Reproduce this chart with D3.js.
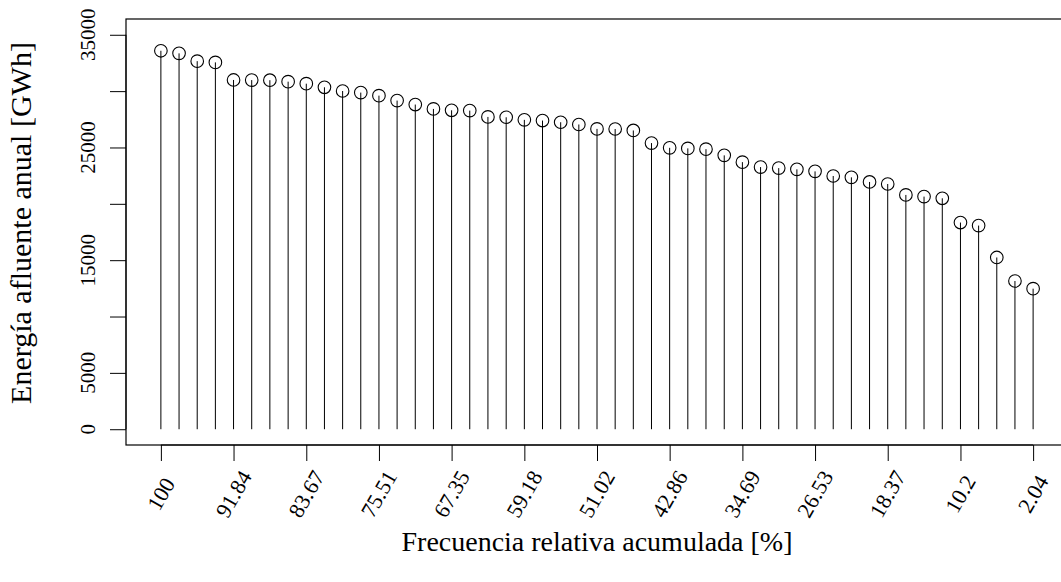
<!DOCTYPE html>
<html>
<head>
<meta charset="utf-8">
<script src="https://cdn.jsdelivr.net/npm/d3@7"></script>
<style>
  html, body { margin: 0; padding: 0; background: #fff; }
  svg { display: block; }
  text { font-family: "Liberation Serif", "DejaVu Serif", serif; fill: #000; }
</style>
</head>
<body>
<svg id="chart" width="1061" height="582"></svg>
<script>
// Cumulative relative frequency (%) for each sorted year
const frecuencia = [
  100, 97.96, 95.92, 93.88, 91.84, 89.80, 87.76, 85.71, 83.67, 81.63,
  79.59, 77.55, 75.51, 73.47, 71.43, 69.39, 67.35, 65.31, 63.27, 61.22,
  59.18, 57.14, 55.10, 53.06, 51.02, 48.98, 46.94, 44.90, 42.86, 40.82,
  38.78, 36.73, 34.69, 32.65, 30.61, 28.57, 26.53, 24.49, 22.45, 20.41,
  18.37, 16.33, 14.29, 12.24, 10.20, 8.16, 6.12, 4.08, 2.04
];

// Annual inflow energy (GWh), sorted from largest to smallest
const energia = [
  33580, 33350, 32660, 32550, 30990, 30980, 30970, 30840, 30660, 30340,
  30010, 29870, 29600, 29160, 28810, 28420, 28300, 28270, 27710, 27680,
  27450, 27390, 27240, 27040, 26650, 26640, 26510, 25390, 24970, 24920,
  24850, 24300, 23700, 23260, 23170, 23060, 22880, 22470, 22350, 21940,
  21760, 20790, 20640, 20490, 18340, 18070, 15240, 13150, 12470
];

// Axis tick labels
const xTickLabels = ["100", "91.84", "83.67", "75.51", "67.35", "59.18", "51.02",
                     "42.86", "34.69", "26.53", "18.37", "10.2", "2.04"];
const yTicks = [0, 5000, 10000, 15000, 20000, 25000, 30000, 35000];
const yTickLabels = ["0", "5000", "", "15000", "", "25000", "", "35000"];

const xTitle = "Frecuencia relativa acumulada [%]";
const yTitle = "Energía afluente anual [GWh]";

// Plot region (the frame runs past the right edge of the page)
const plot = { left: 126, right: 1068, top: 19, bottom: 445 };

// Ranges padded by 4% on each side
const xMin = d3.min(frecuencia), xMax = d3.max(frecuencia);
const xPad = (xMax - xMin) * 0.04;
const yLo = 0, yHi = 35000, yPad = (yHi - yLo) * 0.04;

const x = d3.scaleLinear()
  .domain([xMax + xPad, xMin - xPad])
  .range([plot.left, plot.right]);
const y = d3.scaleLinear()
  .domain([yLo - yPad, yHi + yPad])
  .range([plot.bottom, plot.top]);

const svg = d3.select("#chart");

// Frame
svg.append("rect")
  .attr("x", plot.left).attr("y", plot.top)
  .attr("width", plot.right - plot.left)
  .attr("height", plot.bottom - plot.top)
  .attr("fill", "none").attr("stroke", "#000").attr("stroke-width", 1.2);

const tickLen = 16;

// X axis: every fourth position carries a tick and label
const xTickValues = frecuencia.filter((d, i) => i % 4 === 0);
const xAxis = d3.axisBottom(x)
  .tickValues(xTickValues)
  .tickSize(tickLen)
  .tickFormat("");
const gx = svg.append("g")
  .attr("transform", `translate(0,${plot.bottom})`)
  .call(xAxis);
gx.select(".domain")
  .attr("d", `M${x(xTickValues[0])},0H${x(xTickValues[xTickValues.length - 1])}`)
  .attr("stroke", "#000");
gx.selectAll(".tick line").attr("stroke", "#000");

svg.append("g").selectAll("text")
  .data(xTickValues)
  .join("text")
  .attr("transform", (d) => `translate(${x(d)},494) rotate(-60)`)
  .attr("text-anchor", "middle")
  .attr("dominant-baseline", "central")
  .attr("font-size", 22)
  .text((d, i) => xTickLabels[i]);

// Y axis
const yAxis = d3.axisLeft(y)
  .tickValues(yTicks)
  .tickSize(tickLen)
  .tickFormat("");
const gy = svg.append("g")
  .attr("transform", `translate(${plot.left},0)`)
  .call(yAxis);
gy.select(".domain")
  .attr("d", `M0,${y(yTicks[0])}V${y(yTicks[yTicks.length - 1])}`)
  .attr("stroke", "#000");
gy.selectAll(".tick line").attr("stroke", "#000");

svg.append("g").selectAll("text")
  .data(yTicks)
  .join("text")
  .attr("transform", (d) => `translate(88,${y(d)}) rotate(-90)`)
  .attr("text-anchor", "middle")
  .attr("dominant-baseline", "central")
  .attr("font-size", 21)
  .text((d, i) => yTickLabels[i]);

// Stems from zero up to each value
svg.append("g").selectAll("line")
  .data(energia)
  .join("line")
  .attr("x1", (d, i) => x(frecuencia[i]))
  .attr("x2", (d, i) => x(frecuencia[i]))
  .attr("y1", y(0))
  .attr("y2", (d) => y(d))
  .attr("stroke", "#000")
  .attr("stroke-width", 1);

// Open circle markers
svg.append("g").selectAll("circle")
  .data(energia)
  .join("circle")
  .attr("cx", (d, i) => x(frecuencia[i]))
  .attr("cy", (d) => y(d))
  .attr("r", 6.3)
  .attr("fill", "none")
  .attr("stroke", "#000")
  .attr("stroke-width", 1.1);

// Axis titles
svg.append("text")
  .attr("x", (plot.left + plot.right) / 2)
  .attr("y", 551)
  .attr("text-anchor", "middle")
  .attr("font-size", 28)
  .text(xTitle);

svg.append("text")
  .attr("transform", `translate(31,223) rotate(-90)`)
  .attr("text-anchor", "middle")
  .attr("font-size", 30)
  .text(yTitle);
</script>
</body>
</html>
